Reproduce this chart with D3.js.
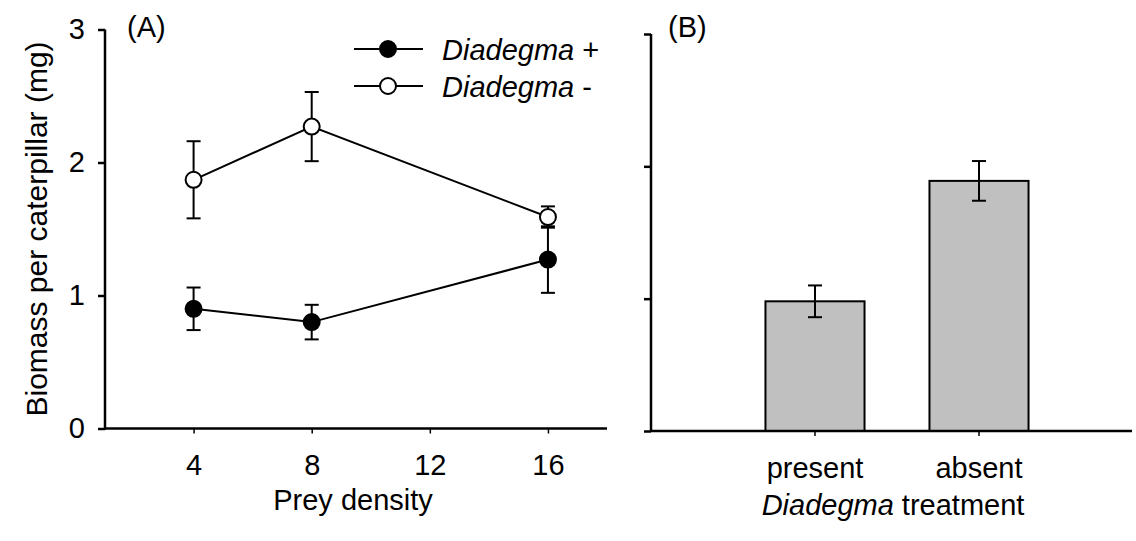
<!DOCTYPE html>
<html>
<head>
<meta charset="utf-8">
<script src="https://cdn.jsdelivr.net/npm/d3@7"></script>
<style>
  html, body { margin: 0; padding: 0; background: #fff; }
  svg { display: block; }
  text { font-family: Arial, "Liberation Sans", sans-serif; fill: #000; }
</style>
</head>
<body>
<svg id="chart" width="1136" height="541"></svg>
<script>
// Panel A: biomass per caterpillar across prey densities
const densities = [4, 8, 16];
const withParasitoid = [0.90, 0.80, 1.27];      // Diadegma +
const withParasitoidSE = [0.16, 0.13, 0.25];
const withoutParasitoid = [1.87, 2.27, 1.59];   // Diadegma -
const withoutParasitoidSE = [0.29, 0.26, 0.08];
const densityTicks = [4, 8, 12, 16];
const biomassTicks = [0, 1, 2, 3];

// Panel B: overall means per treatment
const treatments = ["present", "absent"];
const treatmentMeans = [0.98, 1.89];
const treatmentSE = [0.12, 0.15];

const svg = d3.select("#chart");
const FS = 29;

// ---------- Panel A ----------
const xA = d3.scaleLinear().domain([1, 18]).range([105, 607]);
const yA = d3.scaleLinear().domain([0, 3]).range([428.5, 29.5]);
const gA = svg.append("g");

const axA_y = gA.append("g").attr("transform", `translate(${xA.range()[0]},0)`)
  .call(d3.axisLeft(yA).tickValues(biomassTicks).tickSize(7).tickPadding(13).tickFormat(d3.format("d")));
const axA_x = gA.append("g").attr("transform", `translate(0,${yA(0)})`)
  .call(d3.axisBottom(xA).tickValues(densityTicks).tickSize(5).tickPadding(21));

[axA_y, axA_x].forEach(a => {
  a.select(".domain").remove();
  a.selectAll("text").style("font-size", FS + "px").style("font-family", "Arial, 'Liberation Sans', sans-serif");
});
axA_y.selectAll(".tick line").attr("stroke-width", 2.5);
axA_x.selectAll(".tick line").attr("stroke-width", 1.5);
gA.append("line").attr("x1", xA.range()[0]).attr("x2", xA.range()[1])
  .attr("y1", yA(0)).attr("y2", yA(0)).attr("stroke", "#000").attr("stroke-width", 2.5);
gA.append("line").attr("x1", xA.range()[0]).attr("x2", xA.range()[0])
  .attr("y1", yA(3)).attr("y2", yA(0) + 1).attr("stroke", "#000").attr("stroke-width", 2.5);

const seriesA = [
  { vals: withoutParasitoid, se: withoutParasitoidSE, fill: "#fff" },
  { vals: withParasitoid, se: withParasitoidSE, fill: "#000" }
];
const line = d3.line().x(d => xA(d.x)).y(d => yA(d.y));
const capW = 7;
const R = 8;
seriesA.forEach(s => {
  const pts = densities.map((x, i) => ({ x, y: s.vals[i], e: s.se[i] }));
  gA.append("path").datum(pts).attr("d", line)
    .attr("fill", "none").attr("stroke", "#000").attr("stroke-width", 2);
  const eb = gA.append("g").selectAll("g").data(pts).join("g");
  eb.append("line").attr("x1", d => xA(d.x)).attr("x2", d => xA(d.x))
    .attr("y1", d => yA(d.y + d.e)).attr("y2", d => yA(d.y - d.e))
    .attr("stroke", "#000").attr("stroke-width", 2);
  [1, -1].forEach(sgn => {
    eb.append("line").attr("x1", d => xA(d.x) - capW).attr("x2", d => xA(d.x) + capW)
      .attr("y1", d => yA(d.y + sgn * d.e)).attr("y2", d => yA(d.y + sgn * d.e))
      .attr("stroke", "#000").attr("stroke-width", 2);
  });
  gA.append("g").selectAll("circle").data(pts).join("circle")
    .attr("cx", d => xA(d.x)).attr("cy", d => yA(d.y)).attr("r", R)
    .attr("fill", s.fill).attr("stroke", "#000").attr("stroke-width", 2);
});

// Legend
const legend = [
  { label: "Diadegma", suffix: " +", fill: "#000", y: 49 },
  { label: "Diadegma", suffix: " -", fill: "#fff", y: 86 }
];
legend.forEach(l => {
  gA.append("line").attr("x1", 354).attr("x2", 423).attr("y1", l.y).attr("y2", l.y)
    .attr("stroke", "#000").attr("stroke-width", 2);
  gA.append("circle").attr("cx", 388).attr("cy", l.y).attr("r", R)
    .attr("fill", l.fill).attr("stroke", "#000").attr("stroke-width", 2);
  const t = gA.append("text").attr("x", 442).attr("y", l.y + 10.5).style("font-size", FS + "px");
  t.append("tspan").style("font-style", "italic").text(l.label);
  t.append("tspan").text(l.suffix);
});

gA.append("text").attr("x", 127).attr("y", 37).style("font-size", FS + "px").text("(A)");
gA.append("text").attr("x", (xA(1) + xA(18)) / 2 - 3).attr("y", 510)
  .attr("text-anchor", "middle").style("font-size", FS + "px").text("Prey density");
gA.append("text").attr("transform", "translate(47,229) rotate(-90)")
  .attr("text-anchor", "middle").style("font-size", "30px").text("Biomass per caterpillar (mg)");

// ---------- Panel B ----------
const yB = d3.scaleLinear().domain([0, 3]).range([431, 34]);
const xB = d3.scaleBand().domain(treatments).range([733, 1061]).paddingInner(0.396).paddingOuter(0.198);
const gB = svg.append("g");
const leftB = 651;

const axB_y = gB.append("g").attr("transform", `translate(${leftB},0)`)
  .call(d3.axisLeft(yB).tickValues(biomassTicks).tickSize(7).tickFormat(""));
axB_y.select(".domain").remove();
axB_y.selectAll(".tick line").attr("stroke-width", 2.5);

const bars = treatments.map((t, i) => ({ t, v: treatmentMeans[i], e: treatmentSE[i] }));
gB.append("g").selectAll("rect").data(bars).join("rect")
  .attr("x", d => xB(d.t)).attr("width", xB.bandwidth())
  .attr("y", d => yB(d.v)).attr("height", d => yB(0) - yB(d.v))
  .attr("fill", "#c0c0c0").attr("stroke", "#000").attr("stroke-width", 2);

const axB_x = gB.append("g").attr("transform", `translate(0,${yB(0)})`)
  .call(d3.axisBottom(xB).tickSize(5).tickPadding(21));
axB_x.select(".domain").remove();
axB_x.selectAll(".tick line").attr("stroke-width", 1.5);
axB_x.selectAll("text").style("font-size", FS + "px").style("font-family", "Arial, 'Liberation Sans', sans-serif");

gB.append("line").attr("x1", leftB).attr("x2", 1132).attr("y1", yB(0)).attr("y2", yB(0))
  .attr("stroke", "#000").attr("stroke-width", 2.5);
gB.append("line").attr("x1", leftB).attr("x2", leftB).attr("y1", yB(3)).attr("y2", yB(0) + 1)
  .attr("stroke", "#000").attr("stroke-width", 2.5);

const ebB = gB.append("g").selectAll("g").data(bars).join("g");
const cx = d => xB(d.t) + xB.bandwidth() / 2;
ebB.append("line").attr("x1", cx).attr("x2", cx)
  .attr("y1", d => yB(d.v + d.e)).attr("y2", d => yB(d.v - d.e))
  .attr("stroke", "#000").attr("stroke-width", 2);
[1, -1].forEach(sgn => {
  ebB.append("line").attr("x1", d => cx(d) - capW).attr("x2", d => cx(d) + capW)
    .attr("y1", d => yB(d.v + sgn * d.e)).attr("y2", d => yB(d.v + sgn * d.e))
    .attr("stroke", "#000").attr("stroke-width", 2);
});

gB.append("text").attr("x", 668).attr("y", 37).style("font-size", FS + "px").text("(B)");
const tB = gB.append("text").attr("x", 893).attr("y", 515).attr("text-anchor", "middle").style("font-size", FS + "px");
tB.append("tspan").style("font-style", "italic").text("Diadegma");
tB.append("tspan").text(" treatment");
</script>
</body>
</html>
